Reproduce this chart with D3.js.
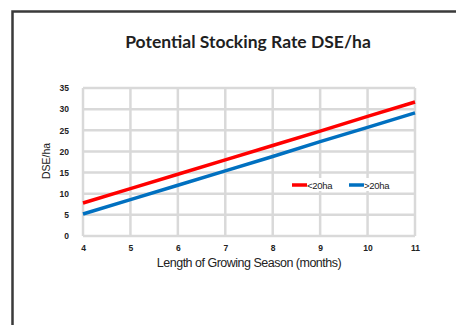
<!DOCTYPE html>
<html>
<head>
<meta charset="utf-8">
<script src="https://cdn.jsdelivr.net/npm/d3@7"></script>
<style>
  html, body { margin: 0; padding: 0; background: #fff; }
  svg { display: block; }
</style>
</head>
<body>
<script>
// Growing season length (months) and potential stocking rate for two property sizes
const months = [4, 5, 6, 7, 8, 9, 10, 11];
const under20ha = [7.8, 11.2, 14.6, 18.0, 21.4, 24.8, 28.3, 31.7];
const over20ha = [5.2, 8.6, 12.0, 15.4, 18.8, 22.3, 25.7, 29.1];
const yTicks = [0, 5, 10, 15, 20, 25, 30, 35];
const seriesNames = ["<20ha", ">20ha"];
const seriesColors = ["#ff0000", "#0070c0"];

const W = 456, H = 325;
const svg = d3.select("body").append("svg").attr("width", W).attr("height", H);

// outer frame
svg.append("rect")
  .attr("x", 12.5).attr("y", 11.5)
  .attr("width", 500).attr("height", 400)
  .attr("fill", "none").attr("stroke", "#3a3a3a").attr("stroke-width", 2.5);

svg.append("text")
  .attr("x", 248).attr("y", 48)
  .attr("text-anchor", "middle")
  .attr("font-family", "Lato, 'Open Sans', sans-serif")
  .attr("font-weight", "bold").attr("font-size", 17.5)
  .attr("fill", "#1f1f1f")
  .text("Potential Stocking Rate DSE/ha");

const x = d3.scaleLinear().domain([4, 11]).range([83, 415]);
const y = d3.scaleLinear().domain([0, 35]).range([236, 88]);

const grid = svg.append("g");
grid.selectAll("line.h").data(yTicks).join("line")
  .attr("x1", x(4)).attr("x2", x(11))
  .attr("y1", d => y(d)).attr("y2", d => y(d))
  .attr("stroke", "#d9d9d9").attr("stroke-width", 2.5);
grid.selectAll("line.v").data(months).join("line")
  .attr("y1", y(0)).attr("y2", y(35))
  .attr("x1", d => x(d)).attr("x2", d => x(d))
  .attr("stroke", "#d9d9d9").attr("stroke-width", 2.5);

// axes (labels only, no domain or tick marks)
const tickFont = g => {
  g.select(".domain").remove();
  g.selectAll(".tick line").remove();
  g.selectAll("text")
    .attr("font-family", "'Liberation Sans', Arial, sans-serif")
    .attr("font-weight", "bold").attr("font-size", 8.5).attr("fill", "#222");
};
svg.append("g")
  .attr("transform", `translate(0,${y(0)})`)
  .call(d3.axisBottom(x).tickValues(months).tickSize(0).tickPadding(9).tickFormat(d3.format("d")))
  .call(tickFont);
svg.append("g")
  .attr("transform", `translate(${x(4)},0)`)
  .call(d3.axisLeft(y).tickValues(yTicks).tickSize(0).tickPadding(14))
  .call(tickFont);

svg.append("text")
  .attr("transform", `translate(50,161) rotate(-90)`)
  .attr("text-anchor", "middle")
  .attr("font-family", "'Liberation Sans', Arial, sans-serif")
  .attr("font-size", 10.5).attr("fill", "#222")
  .text("DSE/ha");

svg.append("text")
  .attr("x", 249).attr("y", 267)
  .attr("text-anchor", "middle")
  .attr("font-family", "'Liberation Sans', Arial, sans-serif")
  .attr("font-size", 12.5).attr("letter-spacing", -0.5).attr("fill", "#222")
  .text("Length of Growing Season (months)");

const line = d3.line().x((d, i) => x(months[i])).y(d => y(d));
[under20ha, over20ha].forEach((s, i) => {
  svg.append("path").datum(s)
    .attr("d", line)
    .attr("fill", "none")
    .attr("stroke", seriesColors[i]).attr("stroke-width", 3.5);
});

// legend
const legendX = [292, 349];
seriesNames.forEach((name, i) => {
  const g = svg.append("g").attr("transform", `translate(${legendX[i]},185)`);
  g.append("rect").attr("x", -2).attr("y", -7).attr("width", 54).attr("height", 13).attr("fill", "#fff");
  g.append("line").attr("x1", 0).attr("x2", 15).attr("y1", 0).attr("y2", 0)
    .attr("stroke", seriesColors[i]).attr("stroke-width", 3.5);
  g.append("text").attr("x", 15).attr("y", 3.5)
    .attr("font-family", "'Liberation Sans', Arial, sans-serif")
    .attr("font-size", 9.5).attr("letter-spacing", -0.3).attr("fill", "#222")
    .text(name);
});
</script>
</body>
</html>
